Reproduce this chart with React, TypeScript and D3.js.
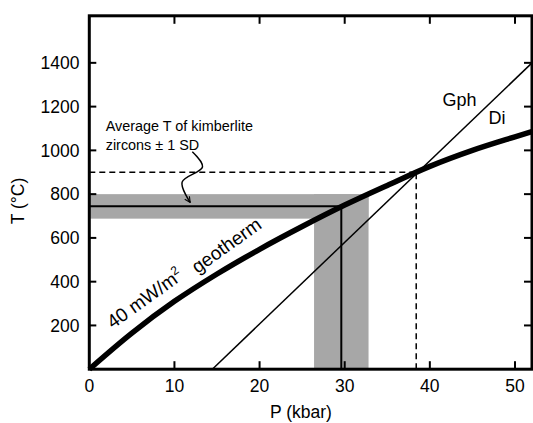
import React from 'react'
import * as d3 from 'd3'

// geotherm (40 mW/m2)
const geoP = [0, 5, 10, 15, 20, 25, 30, 35, 40, 45, 50, 52]
const geoT = [0, 165, 310, 435, 548, 652, 750, 840, 927, 1000, 1062, 1086]

// graphite / diamond boundary
const gphDiP = [14.45, 52]
const gphDiT = [0, 1400]

// kimberlite zircons: mean T +- 1 SD, and P range on the geotherm
const zirconT = [688, 745, 800]
const zirconP = [26.4, 29.6, 32.8]

// Gph-Di crossing with the geotherm
const crossP = 38.4
const crossT = 900

// curly arrow from the note down to the band (data units)
const arrowP = [12.1, 13.3, 10.9, 11.85]
const arrowT = [994, 925, 855, 762]

const xTicks = [0, 10, 20, 30, 40, 50]
const yTicks = [200, 400, 600, 800, 1000, 1200, 1400]

const W = 533
const H = 423
const font = '"Liberation Sans", Arial, Helvetica, sans-serif'

export default function App() {
  const x = d3.scaleLinear().domain([0, 52]).range([89.3, 532])
  const y = d3.scaleLinear().domain([0, 1615]).range([369.2, 15.8])

  const geoLine = d3.line<number>()
    .x((d, i) => x(geoP[i]))
    .y(d => y(d))
    .curve(d3.curveMonotoneX)

  const arrowLine = d3.line<number>()
    .x((d, i) => x(arrowP[i]))
    .y(d => y(d))
    .curve(d3.curveCatmullRom.alpha(0.5))

  const gray = '#a7a7a7'

  return (
    <svg width={W} height={H} style={{ position: 'absolute', left: 0, top: 0 }} fontFamily={font}>
      <defs>
        <marker id="arr" viewBox="0 0 10 10" refX="9" refY="5" markerWidth="7" markerHeight="7"
          orient="auto" markerUnits="userSpaceOnUse">
          <path d="M1,1 L9,5 L1,9" fill="none" stroke="#000" strokeWidth={1.6} />
        </marker>
      </defs>

      {/* grey bands */}
      <rect x={x(0)} y={y(zirconT[2])} width={x(zirconP[2]) - x(0)}
        height={y(zirconT[0]) - y(zirconT[2])} fill={gray} />
      <rect x={x(zirconP[0])} y={y(zirconT[2])} width={x(zirconP[2]) - x(zirconP[0])}
        height={y(0) - y(zirconT[2])} fill={gray} />

      {/* mean lines */}
      <line x1={x(0)} x2={x(zirconP[1])} y1={y(zirconT[1])} y2={y(zirconT[1])} stroke="#000" strokeWidth={2} />
      <line x1={x(zirconP[1])} x2={x(zirconP[1])} y1={y(0)} y2={y(zirconT[1])} stroke="#000" strokeWidth={2} />

      {/* dashed crossing lines */}
      <line x1={x(0)} x2={x(crossP)} y1={y(crossT)} y2={y(crossT)} stroke="#000" strokeWidth={1.5} strokeDasharray="6,4" />
      <line x1={x(crossP)} x2={x(crossP)} y1={y(0)} y2={y(crossT)} stroke="#000" strokeWidth={1.5} strokeDasharray="6,4" />

      {/* Gph-Di */}
      <line x1={x(gphDiP[0])} y1={y(gphDiT[0])} x2={x(gphDiP[1])} y2={y(gphDiT[1])} stroke="#000" strokeWidth={1.5} />

      {/* geotherm */}
      <path d={geoLine(geoT) || ''} fill="none" stroke="#000" strokeWidth={5.5} />

      {/* arrow */}
      <path d={arrowLine(arrowT) || ''} fill="none" stroke="#000" strokeWidth={1.5} markerEnd="url(#arr)" />

      {/* frame */}
      <rect x={x(0)} y={y(1615)} width={x(52) - x(0)} height={y(0) - y(1615)} fill="none" stroke="#000" strokeWidth={3} />

      {/* ticks */}
      {xTicks.filter(t => t > 0).map(t => (
        <g key={'xt' + t}>
          <line x1={x(t)} x2={x(t)} y1={y(0)} y2={y(0) - 8} stroke="#000" strokeWidth={2} />
          <line x1={x(t)} x2={x(t)} y1={y(1615)} y2={y(1615) + 8} stroke="#000" strokeWidth={2} />
        </g>
      ))}
      {yTicks.map(t => (
        <g key={'yt' + t}>
          <line x1={x(0)} x2={x(0) + 7} y1={y(t)} y2={y(t)} stroke="#000" strokeWidth={2} />
          <line x1={x(52)} x2={x(52) - 8} y1={y(t)} y2={y(t)} stroke="#000" strokeWidth={2} />
        </g>
      ))}

      {/* tick labels */}
      {xTicks.map(t => (
        <text key={'xl' + t} x={x(t)} y={392} textAnchor="middle" fontSize={17.5}>{t}</text>
      ))}
      {yTicks.map(t => (
        <text key={'yl' + t} x={79.5} y={y(t)} dy="0.36em" textAnchor="end" fontSize={17.5}>{t}</text>
      ))}

      {/* axis titles */}
      <text x={301} y={418} textAnchor="middle" fontSize={17.5}>P (kbar)</text>
      <text transform="translate(24,201) rotate(-90)" textAnchor="middle" fontSize={17.5}>T (°C)</text>

      {/* annotations */}
      <text x={x(1.93)} y={y(1088)} fontSize={14.4}>Average T of kimberlite</text>
      <text x={x(1.93)} y={y(1004)} fontSize={14.4}>zircons ± 1 SD</text>
      <text x={x(41.5)} y={y(1202)} fontSize={18}>Gph</text>
      <text x={x(46.9)} y={y(1120)} fontSize={18}>Di</text>

      <text transform={`translate(${x(2.75)},${y(182)}) rotate(-35.5)`} fontSize={19}>
        40 mW/m<tspan fontSize={12} dy={-8}>2</tspan>
      </text>
      <text transform={`translate(${x(12.7)},${y(435)}) rotate(-35.5)`} fontSize={19}>geotherm</text>
    </svg>
  )
}
